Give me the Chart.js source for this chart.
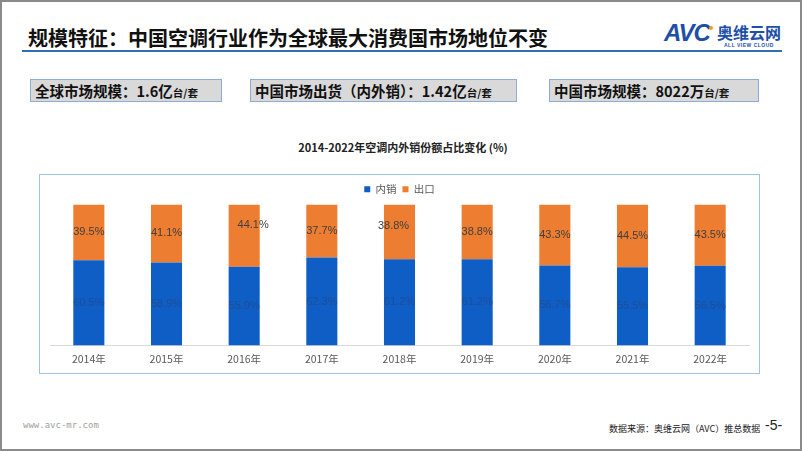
<!DOCTYPE html>
<html><head><meta charset="utf-8">
<script src="https://cdn.jsdelivr.net/npm/chart.js@4/dist/chart.umd.min.js"></script>
<style>
html,body{margin:0;padding:0;background:#fff;}
#page{position:relative;width:802px;height:451px;box-sizing:border-box;border:2px solid #8a8a8a;overflow:hidden;font-family:"Noto Sans CJK SC","Liberation Sans",sans-serif;}
#title{position:absolute;left:26px;top:21px;font-size:20px;font-weight:bold;color:#111;white-space:nowrap;}
#rule{position:absolute;left:20px;top:48px;width:760px;height:2px;background:#2f6db5;}
#logo{position:absolute;left:662px;top:18px;white-space:nowrap;}
#logo .avc{position:absolute;left:0;top:-1px;font-family:"Liberation Sans",sans-serif;font-weight:bold;font-style:italic;font-size:24px;color:#1d4fa8;letter-spacing:-1px;}
#logo .dot{position:absolute;left:45px;top:6px;width:4px;height:4px;border-radius:2px;background:#f0a020;}
#logo .cn{position:absolute;left:53px;top:0px;font-size:16px;font-weight:bold;color:#1d4fa8;}
#logo .en{position:absolute;left:60px;top:22px;font-size:5px;color:#1d4fa8;font-family:"Liberation Sans",sans-serif;font-weight:bold;letter-spacing:0.5px;}
.box{position:absolute;top:77px;height:23px;background:#d9d9d9;border:1px solid #8eaadb;box-sizing:border-box;font-weight:bold;font-size:14.5px;color:#111;line-height:21px;padding-left:4px;white-space:nowrap;}
.box small{font-size:10.5px;font-weight:bold;}
#ctitle{position:absolute;left:0;width:802px;top:137px;text-align:center;font-size:11px;font-weight:bold;color:#222;}
#cbox{position:absolute;left:37px;top:172px;width:721px;height:200px;box-sizing:border-box;border:1.5px solid #9dc3e6;}
#cwrap{position:absolute;left:39px;top:174px;width:717px;height:196px;}
#url{position:absolute;left:21px;top:418px;font-family:"DejaVu Sans Mono",monospace;font-size:9px;color:#a0a0a0;}
#src{position:absolute;left:607px;top:420px;font-size:9px;color:#222;white-space:nowrap;}
#pg{position:absolute;left:763px;top:415px;font-size:14px;color:#222;font-family:"Liberation Sans",sans-serif;}
</style></head>
<body><div id="page">
<div id="title">规模特征：中国空调行业作为全球最大消费国市场地位不变</div>
<div id="rule"></div>
<div id="logo"><span class="avc">AVC</span><span class="dot"></span><span class="cn">奥维云网</span><span class="en">ALL VIEW CLOUD</span></div>
<div class="box" style="left:28px;width:192px;">全球市场规模：1.6亿<small>台/套</small></div>
<div class="box" style="left:248px;width:267px;">中国市场出货（内外销）：1.42亿<small>台/套</small></div>
<div class="box" style="left:547px;width:210px;">中国市场规模：8022万<small>台/套</small></div>
<div id="ctitle">2014-2022年空调内外销份额占比变化 (%)</div>
<div id="cbox"></div>
<div id="cwrap"><canvas id="c" width="717" height="196"></canvas></div>
<div id="url">www.avc-mr.com</div>
<div id="src">数据来源：奥维云网（AVC）推总数据</div>
<div id="pg">-5-</div>
</div>
<script>
const categories = ['2014年','2015年','2016年','2017年','2018年','2019年','2020年','2021年','2022年'];
const domestic = [60.5, 58.9, 55.9, 62.3, 61.2, 61.2, 56.7, 55.5, 56.5];
const exportShare = [39.5, 41.1, 44.1, 37.7, 38.8, 38.8, 43.3, 44.5, 43.5];
const seriesNames = ['内销','出口'];
const exportLabelShift = [[0,0],[0,0],[9,-11],[0,0],[-6,-6],[0,0],[0,0],[0,0],[0,0]];

const labelPlugin = {
  id:'vlabels',
  afterDatasetsDraw(chart){
    const ctx = chart.ctx;
    ctx.save();
    ctx.font = '11px "Liberation Sans", Arial, sans-serif';
    ctx.textAlign = 'center'; ctx.textBaseline = 'middle';
    chart.data.datasets.forEach((ds, di) => {
      const meta = chart.getDatasetMeta(di);
      meta.data.forEach((bar, i) => {
        const mid = (bar.y + bar.base) / 2;
        let dx = 0, dy = 0;
        if (di === 1) { dx = exportLabelShift[i][0]; dy = exportLabelShift[i][1]; }
        ctx.fillStyle = di === 0 ? '#1f4e96' : '#404040';
        ctx.fillText(ds.data[i].toFixed(1) + '%', bar.x + dx, mid + dy);
      });
    });
    ctx.restore();
  }
};

new Chart(document.getElementById('c'), {
  type:'bar',
  data:{ labels: categories, datasets:[
    {label:seriesNames[0], data:domestic, backgroundColor:'#0e5ec6', categoryPercentage:0.4, barPercentage:1},
    {label:seriesNames[1], data:exportShare, backgroundColor:'#ed7d31', categoryPercentage:0.4, barPercentage:1}
  ]},
  options:{
    responsive:false, animation:false, devicePixelRatio:1,
    layout:{padding:{left:9,right:9,top:2,bottom:0}},
    plugins:{
      legend:{display:true, position:'top', labels:{boxWidth:6, boxHeight:6, padding:6, font:{size:10.5,family:'"Noto Sans CJK SC", sans-serif'}, color:'#595959'}},
      tooltip:{enabled:false}
    },
    scales:{
      x:{stacked:true, grid:{display:false, drawTicks:false}, border:{color:'#d9d9d9'},
         ticks:{color:'#595959', padding:7, font:{size:10.5,family:'"Noto Sans CJK SC", sans-serif'}}},
      y:{stacked:true, min:0, max:100, display:false}
    }
  },
  plugins:[labelPlugin]
});
</script>
</body></html>
